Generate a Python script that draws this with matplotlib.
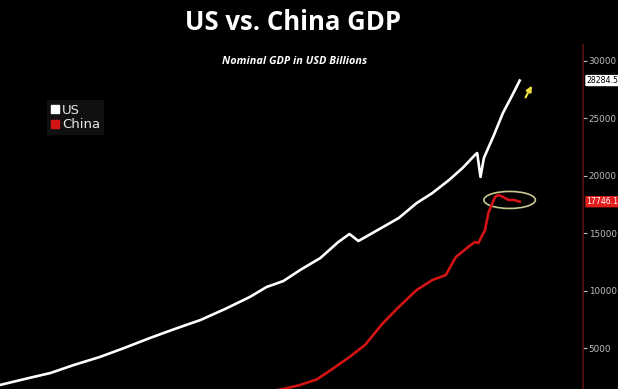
import matplotlib
matplotlib.use('Agg')
import matplotlib.pyplot as plt
from matplotlib.patches import Ellipse
from matplotlib.lines import Line2D

# US nominal GDP (USD bn)
us_years = [1977.4, 1980.0, 1981.9, 1984.0, 1986.3, 1988.5, 1990.8, 1993.0, 1995.3,
            1997.5, 1999.7, 2001.2, 2002.7, 2004.2, 2006.0, 2007.6, 2008.6, 2009.4,
            2010.5, 2011.6, 2013.0, 2014.6, 2016.0, 2017.5, 2018.7, 2019.8, 2020.0,
            2020.3, 2020.6, 2021.5, 2022.3, 2023.1, 2023.8]
us_gdp = [1810, 2420, 2850, 3550, 4240, 5030, 5900, 6680, 7460,
          8420, 9460, 10330, 10850, 11810, 12850, 14240, 14940, 14330,
          14940, 15550, 16330, 17630, 18500, 19640, 20680, 21810, 21980,
          19900, 21550, 23550, 25460, 26940, 28284.5]

# China nominal GDP (USD bn)
cn_years = [2001.0, 2002.7, 2004.2, 2005.7, 2007.0, 2008.6, 2010.0, 2011.6, 2013.0,
            2014.6, 2016.0, 2017.2, 2018.1, 2019.2, 2019.8, 2020.1, 2020.7, 2021.0,
            2021.6, 2021.9, 2022.3, 2022.8, 2023.3, 2023.8]
cn_gdp = [1200, 1460, 1810, 2300, 3150, 4240, 5300, 7200, 8590,
          10070, 10940, 11370, 12940, 13810, 14240, 14150, 15280, 16770,
          18160, 18330, 18160, 17900, 17900, 17746.1]

yticks = [5000, 10000, 15000, 20000, 25000, 30000]

fig = plt.figure(figsize=(6.18, 3.89), dpi=100, facecolor='black')
ax = fig.add_axes([0.0, 0.0, 583 / 618, (389 - 45) / 389], facecolor='black')

ax.plot(us_years, us_gdp, color='white', lw=1.9)
ax.plot(cn_years, cn_gdp, color='#d41414', lw=1.9)

ax.set_xlim(1977.4, 2029.45)
ax.set_ylim(1460, 31375)

for s in ['top', 'left', 'bottom']:
    ax.spines[s].set_visible(False)
ax.spines['right'].set_color('#5a1212')
ax.spines['right'].set_linewidth(1.2)
ax.set_xticks([])
ax.yaxis.tick_right()
ax.set_yticks(yticks)
ax.set_yticklabels([str(v) for v in yticks])
ax.tick_params(axis='y', colors='#c0c0c0', labelsize=6.3, length=3, width=0.8,
               direction='out', pad=1)
for t in ax.yaxis.get_ticklines():
    t.set_color('#8a2020')

# last value tags
ax.annotate(f'{us_gdp[-1]:.1f}', xy=(1.0, us_gdp[-1]), xycoords=('axes fraction', 'data'),
            xytext=(2.5, 0), textcoords='offset points', va='center', ha='left',
            fontsize=5.6, color='black', annotation_clip=False,
            bbox=dict(boxstyle='round,pad=0.15', fc='white', ec='none'))
ax.annotate(f'{cn_gdp[-1]:.1f}', xy=(1.0, cn_gdp[-1]), xycoords=('axes fraction', 'data'),
            xytext=(2.5, 0), textcoords='offset points', va='center', ha='left',
            fontsize=5.6, color='white', annotation_clip=False,
            bbox=dict(boxstyle='round,pad=0.15', fc='#e01e1e', ec='none'))

# highlight around China's peak and arrow on US
ax.add_patch(Ellipse((2022.9, 17900), 4.6, 1480, fill=False, ec='#c8c890', lw=1.2))
ax.annotate('', xy=(2025.0, 28050), xytext=(2024.2, 26600),
            arrowprops=dict(arrowstyle='-|>', color='#f2e040', lw=1.5, mutation_scale=8))

handles = [Line2D([], [], ls='none', marker='s', ms=6, mfc=c, mec=c)
           for c in ['white', '#d41414']]
leg = ax.legend(handles, ['US', 'China'], loc='upper left',
                bbox_to_anchor=(47 / 583, (389 - 100) / 344), borderaxespad=0,
                frameon=True, facecolor='#151515', edgecolor='none', fancybox=False,
                handlelength=0.6, handletextpad=0.25, borderpad=0.3,
                labelspacing=0.1, fontsize=9.5)
for t in leg.get_texts():
    t.set_color('#e8e8e8')

fig.text(0.474, 0.941, 'US vs. China GDP', color='white', fontsize=18.5,
         fontweight='bold', family='Open Sans', ha='center', va='center')
fig.text(0.477, 0.842, 'Nominal GDP in USD Billions', color='white', fontsize=7.8,
         fontweight='bold', fontstyle='italic', family='Open Sans', ha='center', va='center')

fig.savefig('out.png', dpi=100, facecolor='black')
